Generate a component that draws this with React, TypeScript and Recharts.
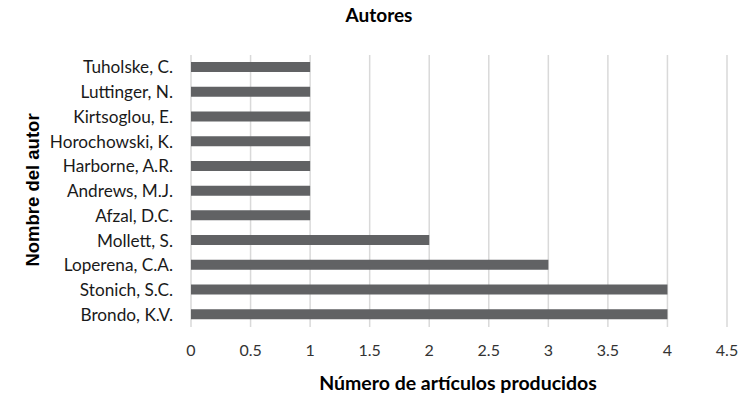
import React from 'react';
import { BarChart, Bar, XAxis, YAxis, CartesianGrid } from 'recharts';

const authors = [
  'Tuholske, C.',
  'Luttinger, N.',
  'Kirtsoglou, E.',
  'Horochowski, K.',
  'Harborne, A.R.',
  'Andrews, M.J.',
  'Afzal, D.C.',
  'Mollett, S.',
  'Loperena, C.A.',
  'Stonich, S.C.',
  'Brondo, K.V.',
];
const articles = [1, 1, 1, 1, 1, 1, 1, 2, 3, 4, 4];
const xTicks = [0, 0.5, 1, 1.5, 2, 2.5, 3, 3.5, 4, 4.5];

const data = authors.map((name, i) => ({ name, value: articles[i] }));

const FONT = 'Lato, "Open Sans", sans-serif';

export default function App() {
  return (
    <div style={{ position: 'absolute', left: 0, top: 0, width: 755, height: 414, background: '#fff' }}>
      <BarChart
        width={755}
        height={414}
        data={data}
        layout="vertical"
        margin={{ top: 55, right: 28, bottom: 57, left: 41 }}
        barCategoryGap="0%"
      >
        <CartesianGrid horizontal={false} vertical={true} stroke="#d9d9d9" strokeWidth={1.5} />
        <XAxis
          type="number"
          domain={[0, 4.5]}
          ticks={xTicks}
          interval={0}
          axisLine={false}
          tickLine={false}
          tickMargin={12}
          height={30}
          tick={{ fill: '#333333', fontSize: 16, fontFamily: FONT }}
        />
        <YAxis
          type="category"
          dataKey="name"
          width={150}
          axisLine={false}
          tickLine={false}
          tickMargin={12}
          interval={0}
          tick={{ fill: '#1a1a1a', fontSize: 17.2, fontFamily: FONT }}
        />
        <Bar dataKey="value" fill="#616264" barSize={10} isAnimationActive={false} />
        <text x={379} y={22} textAnchor="middle" fontFamily={FONT} fontWeight="bold" fontSize={19} fill="#000">
          Autores
        </text>
        <text x={458} y={390} textAnchor="middle" fontFamily={FONT} fontWeight="bold" fontSize={19.5} fill="#000">
          Número de artículos producidos
        </text>
        <text
          x={39}
          y={190}
          textAnchor="middle"
          fontFamily='"Liberation Sans", Arial, sans-serif'
          fontWeight="bold"
          fontSize={18.5}
          fill="#000"
          transform="rotate(-90 39 190)"
        >
          Nombre del autor
        </text>
      </BarChart>
    </div>
  );
}
